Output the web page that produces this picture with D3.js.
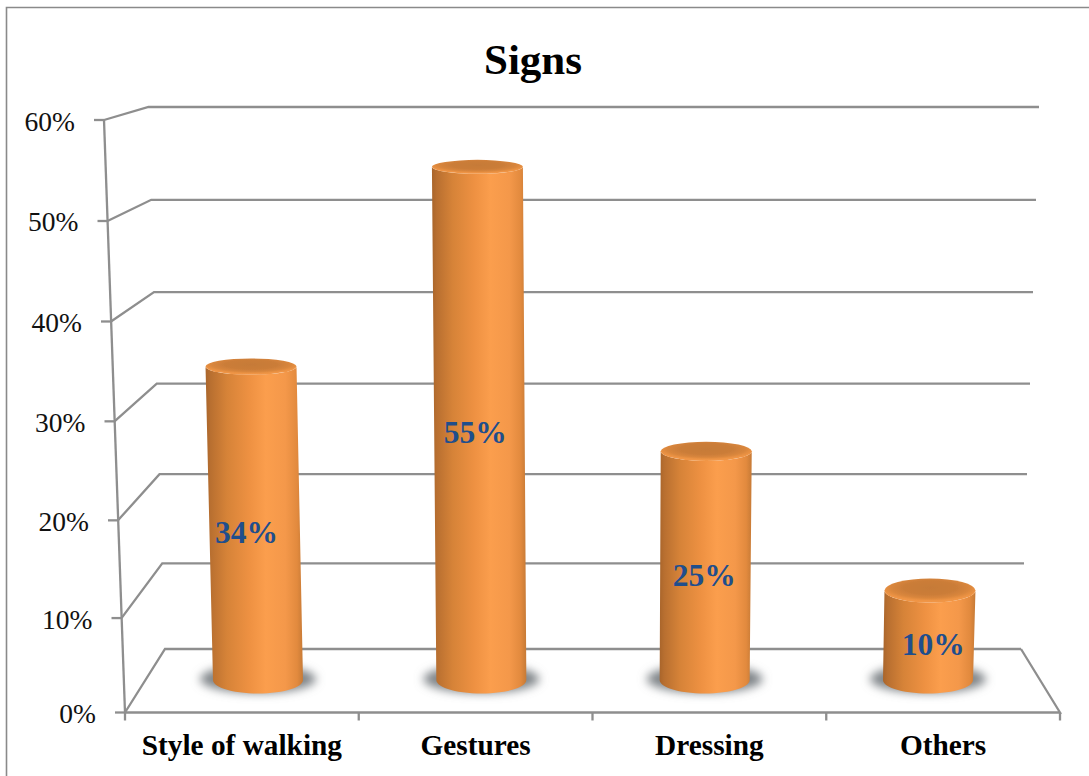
<!DOCTYPE html>
<html>
<head>
<meta charset="utf-8">
<title>Signs</title>
<script src="https://cdn.jsdelivr.net/npm/d3@7"></script>
<style>
  html, body { margin: 0; padding: 0; background: #fff; }
  svg { display: block; font-family: "Liberation Serif", "Times New Roman", serif; }
</style>
</head>
<body>
<svg id="chart" width="1089" height="776"></svg>
<script>
const titleText = "Signs";
const categories = ["Style of walking", "Gestures", "Dressing", "Others"];
const percentages = [34, 55, 25, 10];
const wallTicks = [0, 10, 20, 30, 40, 50, 60];

const GRID = "#8e8e8e";
const svg = d3.select("#chart");
const defs = svg.append("defs");

// Projection of the 3-D box: each edge of the box has its own pair of scales.
const depthCurve = 1.025;
const frontY = d3.scalePow().exponent(depthCurve).domain([0, 60]).range([712.5, 120]);
const backY  = d3.scalePow().exponent(depthCurve + 0.005).domain([0, 60]).range([649, 107]);
const frontX = d3.scaleLinear().domain([0, 60]).range([125, 104]);
const backLeftX  = d3.scaleLinear().domain([0, 60]).range([165, 148.5]);
const backRightX = d3.scaleLinear().domain([0, 60]).range([1021, 1039]);

const floorBand = d3.scaleBand().domain(categories).range([125, 1060]);
const baseX = d3.scalePoint().domain(categories).range([258, 928]);
const barY  = d3.scalePow().exponent(depthCurve).domain([0, 60]).range([680, 119]);
const flatten = d3.scaleLinear().domain([167, 368, 680]).range([7, 8.2, 13.5]);

// Outward lean of a bar's top, growing with height and distance from the view centre.
const viewCentre = 600;
const topX = (c, v) => baseX(c) + (baseX(c) - viewCentre) * v * 6e-4;

// Cylinder side shading
const sideGrad = defs.append("linearGradient").attr("id", "side");
[[0, "#a9652b"], [0.05, "#b86f30"], [0.22, "#d68338"], [0.45, "#ee9142"],
 [0.62, "#fb9e4d"], [0.82, "#f4984a"], [0.94, "#e28a3e"], [1, "#c67a36"]]
  .forEach(([o, c]) => sideGrad.append("stop").attr("offset", o).attr("stop-color", c));

// Cylinder cap shading: dark centre with a lighter bevelled rim
const capGrad = defs.append("radialGradient").attr("id", "cap")
  .attr("cx", "50%").attr("cy", "38%").attr("r", "58%");
[[0, "#c67a38"], [0.5, "#cb7d39"], [0.74, "#d9863c"], [0.92, "#ee9445"], [1, "#f09646"]]
  .forEach(([o, c]) => capGrad.append("stop").attr("offset", o).attr("stop-color", c));

const shadowBlur = defs.append("filter").attr("id", "shadowBlur")
  .attr("x", "-30%").attr("y", "-80%").attr("width", "160%").attr("height", "260%");
shadowBlur.append("feGaussianBlur").attr("stdDeviation", 5);

const capSoft = defs.append("filter").attr("id", "capSoft")
  .attr("x", "-5%").attr("y", "-20%").attr("width", "110%").attr("height", "140%");
capSoft.append("feGaussianBlur").attr("stdDeviation", 0.6);

// Chart frame (top and left edges)
svg.append("path").attr("d", d3.line()([[6.5, 776], [6.5, 7.5], [1089, 7.5]]))
  .attr("fill", "none").attr("stroke", "#8a8a8a").attr("stroke-width", 1.6);

svg.append("text").attr("x", 533).attr("y", 74).attr("text-anchor", "middle")
  .attr("font-size", 43).attr("font-weight", "bold").attr("fill", "#000").text(titleText);

// Wall gridlines with their connectors to the front edge
const link = d3.line();
const grid = svg.append("g").attr("fill", "none").attr("stroke", GRID).attr("stroke-width", 2.3);
grid.selectAll("path.wall").data(wallTicks).join("path").attr("class", "wall")
  .attr("d", v => link([[frontX(v), frontY(v)], [backLeftX(v), backY(v)], [backRightX(v), backY(v)]]));

// Front vertical axis with tick stubs
grid.append("path").attr("d", link(frontX.domain().map(v => [frontX(v), frontY(v)])));
grid.selectAll("path.stub").data(wallTicks).join("path").attr("class", "stub")
  .attr("d", v => link([[frontX(v) - 10, frontY(v)], [frontX(v), frontY(v)]]));

// Floor front edge, right side edge and category ticks
grid.append("path").attr("d", link([[backRightX(0), backY(0)], [floorBand.range()[1], frontY(0)], [floorBand.range()[0], frontY(0)]]));
const catEdges = categories.map(c => floorBand(c)).concat(floorBand.range()[1]);
grid.selectAll("path.catTick").data(catEdges).join("path").attr("class", "catTick")
  .attr("d", x => link([[x, frontY(0)], [x, frontY(0) + 8]]));

// Value labels beside the wall
svg.append("g").attr("font-size", 27.5).attr("fill", "#111").attr("text-anchor", "end")
  .selectAll("text").data(wallTicks).join("text")
  .attr("x", v => frontX(v) - 29).attr("y", v => frontY(v) + 10.5)
  .text(v => d3.format(".0%")(v / 100));

svg.append("g").attr("font-size", 29.3).attr("font-weight", "bold").attr("fill", "#000")
  .attr("text-anchor", "middle")
  .selectAll("text").data(categories).join("text")
  .attr("x", c => floorBand(c) + floorBand.bandwidth() / 2).attr("y", 755)
  .text(c => c);

// Cylinders
const rows = categories.map((c, i) => ({ c, v: percentages[i] }));
const bars = svg.append("g").selectAll("g").data(rows).join("g");

bars.append("ellipse")
  .attr("cx", d => baseX(d.c)).attr("cy", barY(0) - 1)
  .attr("rx", 58).attr("ry", 14)
  .attr("fill", "#7f8488").attr("filter", "url(#shadowBlur)");

const sidePath = d => {
  const tx = topX(d.c, d.v), ty = barY(d.v), bx = baseX(d.c), by = barY(0);
  const tr = 45.5, br = 45, topRy = flatten(ty), baseRy = flatten(by);
  const front = d3.range(0, 181, 6).map(a => a * Math.PI / 180);
  const bottom = front.map(a => [bx + br * Math.cos(a), by + baseRy * Math.sin(a)]);
  const top = front.slice().reverse().map(a => [tx + tr * Math.cos(a), ty + topRy * Math.sin(a)]);
  return d3.line()(bottom.concat(top)) + "Z";
};
bars.append("path").attr("d", sidePath).attr("fill", "url(#side)");

bars.append("ellipse")
  .attr("cx", d => topX(d.c, d.v)).attr("cy", d => barY(d.v))
  .attr("rx", 45.5).attr("ry", d => flatten(barY(d.v)))
  .attr("fill", "url(#cap)").attr("filter", "url(#capSoft)");

// Value labels sitting on the cylinders
const labelX = d => baseX(d.c) + (baseX(d.c) - viewCentre) * 0.025 - 3;
svg.append("g").attr("font-size", 31.5).attr("font-weight", "bold").attr("fill", "#1f4e8c")
  .attr("text-anchor", "middle")
  .selectAll("text").data(rows).join("text")
  .attr("x", labelX)
  .attr("y", d => (barY(d.v) + barY(0)) / 2 + 20)
  .text(d => d.v + "%");
</script>
</body>
</html>
